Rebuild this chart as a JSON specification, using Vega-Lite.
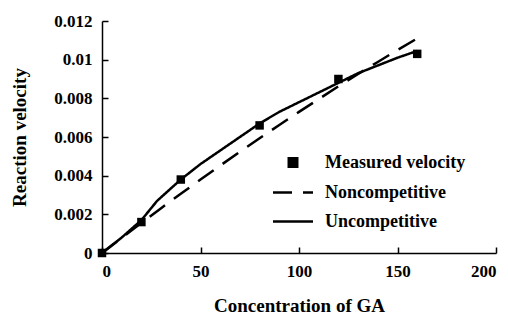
{
  "$schema": "https://vega.github.io/schema/vega-lite/v6.json",
  "width": 394,
  "height": 232,
  "autosize": "none",
  "padding": {"left": 102, "top": 21, "right": 12, "bottom": 61},
  "background": "white",
  "config": {
    "view": {"stroke": null},
    "font": "Liberation Serif",
    "axis": {
      "labelFont": "Liberation Serif",
      "labelFontWeight": "bold",
      "labelFontSize": 17,
      "labelColor": "black",
      "titleFont": "Liberation Serif",
      "titleFontWeight": "bold",
      "titleFontSize": 19,
      "titleColor": "black",
      "domainColor": "black",
      "domainWidth": 1.5,
      "tickColor": "black",
      "tickWidth": 1.5,
      "grid": false
    },
    "legend": {
      "labelFont": "Liberation Serif",
      "labelFontWeight": "bold",
      "labelFontSize": 18,
      "labelColor": "black"
    }
  },
  "datasets": {
    "measured": [
      {"S": 0, "v": 0, "series": "Measured velocity"},
      {"S": 20, "v": 0.0016, "series": "Measured velocity"},
      {"S": 40, "v": 0.0038, "series": "Measured velocity"},
      {"S": 80, "v": 0.0066, "series": "Measured velocity"},
      {"S": 120, "v": 0.009, "series": "Measured velocity"},
      {"S": 160, "v": 0.0103, "series": "Measured velocity"}
    ],
    "curves": [
      {"S": 0, "v": 0, "series": "Noncompetitive"},
      {"S": 10, "v": 0.00078, "series": "Noncompetitive"},
      {"S": 20, "v": 0.00156, "series": "Noncompetitive"},
      {"S": 30, "v": 0.00232, "series": "Noncompetitive"},
      {"S": 40, "v": 0.00306, "series": "Noncompetitive"},
      {"S": 50, "v": 0.0038, "series": "Noncompetitive"},
      {"S": 60, "v": 0.00452, "series": "Noncompetitive"},
      {"S": 70, "v": 0.00524, "series": "Noncompetitive"},
      {"S": 80, "v": 0.00594, "series": "Noncompetitive"},
      {"S": 90, "v": 0.00662, "series": "Noncompetitive"},
      {"S": 100, "v": 0.0073, "series": "Noncompetitive"},
      {"S": 110, "v": 0.00796, "series": "Noncompetitive"},
      {"S": 120, "v": 0.00862, "series": "Noncompetitive"},
      {"S": 130, "v": 0.00926, "series": "Noncompetitive"},
      {"S": 140, "v": 0.00988, "series": "Noncompetitive"},
      {"S": 150, "v": 0.0105, "series": "Noncompetitive"},
      {"S": 160, "v": 0.0111, "series": "Noncompetitive"},
      {"S": 0, "v": 0, "series": "Uncompetitive"},
      {"S": 5, "v": 0.0004, "series": "Uncompetitive"},
      {"S": 10, "v": 0.0008, "series": "Uncompetitive"},
      {"S": 20, "v": 0.0017, "series": "Uncompetitive"},
      {"S": 28, "v": 0.0027, "series": "Uncompetitive"},
      {"S": 40, "v": 0.0038, "series": "Uncompetitive"},
      {"S": 50, "v": 0.0046, "series": "Uncompetitive"},
      {"S": 60, "v": 0.0053, "series": "Uncompetitive"},
      {"S": 70, "v": 0.006, "series": "Uncompetitive"},
      {"S": 80, "v": 0.0067, "series": "Uncompetitive"},
      {"S": 90, "v": 0.0073, "series": "Uncompetitive"},
      {"S": 100, "v": 0.0078, "series": "Uncompetitive"},
      {"S": 110, "v": 0.0083, "series": "Uncompetitive"},
      {"S": 120, "v": 0.0088, "series": "Uncompetitive"},
      {"S": 130, "v": 0.0093, "series": "Uncompetitive"},
      {"S": 140, "v": 0.0097, "series": "Uncompetitive"},
      {"S": 150, "v": 0.0101, "series": "Uncompetitive"},
      {"S": 160, "v": 0.01045, "series": "Uncompetitive"}
    ]
  },
  "encoding": {
    "x": {
      "field": "S",
      "type": "quantitative",
      "scale": {"domain": [0, 200], "nice": false, "zero": true},
      "axis": {
        "title": "Concentration of GA",
        "values": [0, 50, 100, 150, 200],
        "tickSize": -6,
        "labelPadding": 16,
        "titleX": 197,
        "titleY": 52,
        "titleBaseline": "middle",
        "titleAlign": "center"
      }
    },
    "y": {
      "field": "v",
      "type": "quantitative",
      "scale": {"domain": [0, 0.012], "nice": false},
      "axis": {
        "title": "Reaction velocity",
        "values": [0, 0.002, 0.004, 0.006, 0.008, 0.01, 0.012],
        "format": "~g",
        "tickSize": -6,
        "labelPadding": 16,
        "titleX": -83,
        "titleY": 116,
        "titleAngle": -90,
        "titleBaseline": "middle",
        "titleAlign": "center"
      }
    },
    "color": {
      "field": "series",
      "type": "nominal",
      "scale": {
        "domain": ["Measured velocity", "Noncompetitive", "Uncompetitive"],
        "range": ["black", "black", "black"]
      },
      "legend": {
        "title": null,
        "orient": "none",
        "legendX": 182,
        "legendY": 132.5,
        "padding": 0,
        "symbolType": "square",
        "symbolSize": 64,
        "symbolStrokeWidth": 2.5,
        "labelOffset": 23,
        "rowPadding": 11,
        "encode": {
          "symbols": {
            "update": {
              "shape": {"signal": "datum.value === 'Measured velocity' ? 'square' : 'M-5,0H5'"},
              "size": {"signal": "datum.value === 'Measured velocity' ? 72 : 64"},
              "fill": {"signal": "datum.value === 'Measured velocity' ? 'black' : 'transparent'"},
              "stroke": {"signal": "datum.value === 'Measured velocity' ? 'transparent' : 'black'"},
              "strokeWidth": {"value": 2.5},
              "strokeDash": {"signal": "datum.value === 'Noncompetitive' ? [19, 11] : [1, 0]"},
              "opacity": {"value": 1}
            }
          }
        }
      }
    }
  },
  "layer": [
    {
      "data": {"name": "curves"},
      "mark": {"type": "line", "strokeWidth": 2.5},
      "encoding": {
        "strokeDash": {
          "field": "series",
          "type": "nominal",
          "scale": {"domain": ["Noncompetitive", "Uncompetitive"], "range": [[19, 11], [1, 0]]},
          "legend": null
        }
      }
    },
    {
      "data": {"name": "measured"},
      "mark": {"type": "square", "size": 72, "filled": true, "opacity": 1}
    }
  ]
}
